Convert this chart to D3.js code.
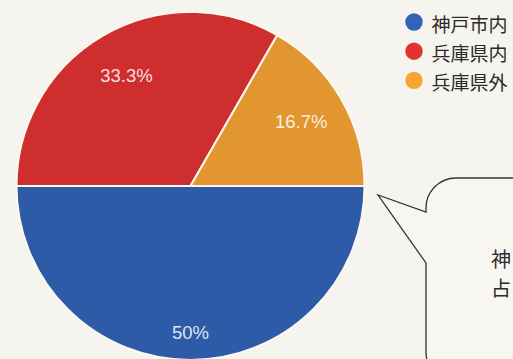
<!DOCTYPE html>
<html lang="ja">
<head>
<meta charset="utf-8">
<script src="https://cdn.jsdelivr.net/npm/d3@7/dist/d3.min.js"></script>
<style>
  html, body { margin: 0; padding: 0; background: #f5f4ee; overflow: hidden; }
  svg { display: block; }
</style>
</head>
<body>
<svg id="chart" width="513" height="359"></svg>
<script>
// Residence breakdown (percent of respondents)
const categories = ["神戸市内", "兵庫県内", "兵庫県外"];
const shares = [50, 33.3, 16.7];
const sliceColors = ["#2d5ba7", "#cf2e2e", "#e1962f"];
const calloutLines = ["神", "占"];

const width = 513, height = 359;
const cx = 190.5, cy = 186, radius = 174;

const svg = d3.select("#chart");

svg.append("rect")
  .attr("width", width).attr("height", height)
  .attr("fill", "#f5f4ee");

const data = categories.map((c, i) => ({ name: c, value: shares[i] }));

const color = d3.scaleOrdinal().domain(categories).range(sliceColors);

// Slices run clockwise starting at 3 o'clock
const pie = d3.pie()
  .sort(null)
  .value(d => d.value)
  .startAngle(Math.PI / 2)
  .endAngle(Math.PI / 2 + 2 * Math.PI);

const arcs = pie(data);
const arc = d3.arc().innerRadius(0).outerRadius(radius);

const g = svg.append("g").attr("transform", `translate(${cx},${cy})`);

g.selectAll("path.slice")
  .data(arcs)
  .join("path")
  .attr("class", "slice")
  .attr("d", arc)
  .attr("fill", d => color(d.data.name))
  .attr("stroke", "#fbf8ef")
  .attr("stroke-width", 2)
  .attr("stroke-linejoin", "round");

// Percentage labels inside each slice
const labelRadius = d => (d.endAngle - d.startAngle >= Math.PI - 1e-6 ? 0.84 : 0.735) * radius;

g.selectAll("text.pct")
  .data(arcs)
  .join("text")
  .attr("class", "pct")
  .attr("x", d => Math.sin((d.startAngle + d.endAngle) / 2) * labelRadius(d))
  .attr("y", d => -Math.cos((d.startAngle + d.endAngle) / 2) * labelRadius(d))
  .attr("text-anchor", "middle")
  .attr("dominant-baseline", "central")
  .attr("font-family", "'Liberation Sans', Arial, sans-serif")
  .attr("font-size", 18.5)
  .attr("fill", "#ffffff")
  .attr("fill-opacity", 0.86)
  .text(d => d.data.value + "%");

// Legend
const legend = svg.append("g").attr("transform", "translate(414,22)");
const rows = legend.selectAll("g")
  .data(categories)
  .join("g")
  .attr("transform", (d, i) => `translate(0,${i * 29.2})`);

rows.append("circle")
  .attr("r", 8.7)
  .attr("fill", d => d3.color(color(d)).brighter(0.25));

rows.append("text")
  .attr("x", 17.5)
  .attr("y", 1)
  .attr("dominant-baseline", "central")
  .attr("font-family", "'Noto Sans CJK JP', sans-serif")
  .attr("font-size", 19)
  .attr("fill", "#2b2b2b")
  .text(d => d);

// Speech bubble callout on the right
const bubble = d3.path();
bubble.moveTo(520, 178);
bubble.lineTo(456, 178);
bubble.arcTo(426, 178, 426, 208, 30);
bubble.lineTo(426, 212);
bubble.lineTo(378, 195);
bubble.lineTo(426, 263);
bubble.lineTo(426, 352);
bubble.arcTo(426, 382, 456, 382, 30);
bubble.lineTo(520, 382);

svg.append("path")
  .attr("d", bubble.toString())
  .attr("fill", "#f7f6f1")
  .attr("stroke", "#333333")
  .attr("stroke-width", 1.3)
  .attr("stroke-linejoin", "miter");

svg.selectAll("text.callout")
  .data(calloutLines)
  .join("text")
  .attr("class", "callout")
  .attr("x", 491)
  .attr("y", (d, i) => 258 + i * 29)
  .attr("dominant-baseline", "central")
  .attr("font-family", "'Noto Sans CJK JP', sans-serif")
  .attr("font-size", 20)
  .attr("fill", "#2b2b2b")
  .text(d => d);
</script>
</body>
</html>
